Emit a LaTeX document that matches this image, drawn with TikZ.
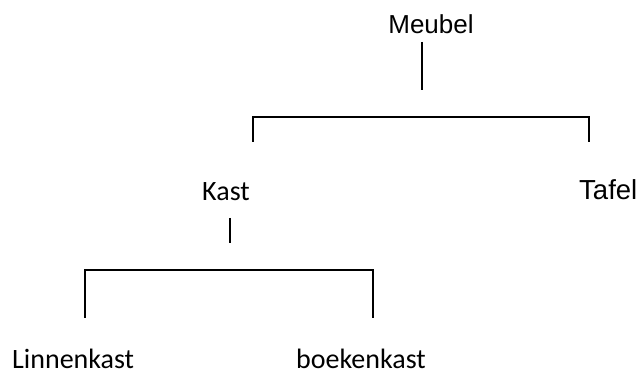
\documentclass[tikz,border=0pt]{standalone}
\usepackage{fontspec}
\setmainfont{Liberation Sans}
\newfontfamily\calib{Carlito}
\begin{document}
\begin{tikzpicture}[x=1pt,y=-1pt,
  arial/.style={inner sep=0pt,font=\fontsize{26}{30}\selectfont},
  calibri/.style={inner sep=0pt,font=\calib\fontsize{28}{33}\selectfont},
  conn/.style={line width=2pt,black}]
\useasboundingbox (0,0) rectangle (643,374);
% texts
\node[arial,anchor=base] (meubel) at (431,34) {Meubel};
\node[arial,anchor=base west,font=\fontsize{27.5}{32}\selectfont] (tafel) at (579,199.5) {Tafel};
\node[calibri,anchor=base] (kast) at (226,201) {Kast};
\node[calibri,anchor=base west] (linnen) at (12,368) {Linnenkast};
\node[calibri,anchor=base west] (boek) at (296,368) {boekenkast};
% connector points
\coordinate (m1) at (422,42);
\coordinate (m2) at (422,90);
\coordinate (bl) at (253,142);
\coordinate (br) at (589,142);
\coordinate (k1) at (230,218);
\coordinate (k2) at (230,243);
\coordinate (cl) at (85,318);
\coordinate (cr) at (373,318);
% connectors
\draw[conn] (m1) -- (m2);
\draw[conn] (bl) |- (br |- 0,117) -- (br);
\draw[conn] (k1) -- (k2);
\draw[conn] (cl) |- (cr |- 0,270) -- (cr);
\end{tikzpicture}
\end{document}
